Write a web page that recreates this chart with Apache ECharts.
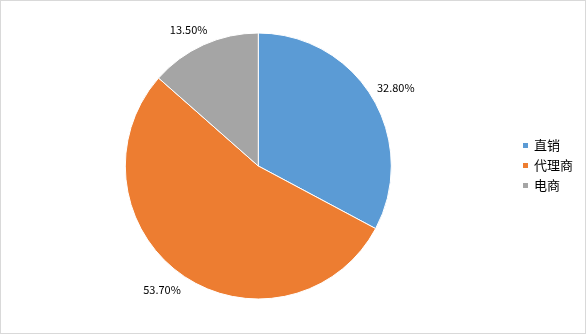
<!DOCTYPE html>
<html><head><meta charset="utf-8">
<script src="https://cdn.jsdelivr.net/npm/echarts@6/dist/echarts.min.js"></script>
<style>
html,body{margin:0;padding:0;background:#fff;}
#frame{position:absolute;left:0;top:0;width:584px;height:332px;border:1px solid #d9d9d9;}
#chart{width:584px;height:332px;}
</style></head>
<body><div id="frame"><div id="chart"></div></div>
<script>
const categories = ['直销', '代理商', '电商'];
const values = [32.8, 53.7, 13.5];
const labels = ['32.80%', '53.70%', '13.50%'];
const colors = ['#5B9BD5', '#ED7D31', '#A5A5A5'];
const labelShift = [[-9, -5], [9, 6], [13, -6]];

const chart = echarts.init(document.getElementById('chart'));
chart.setOption({
  animation: false,
  color: colors,
  legend: {
    orient: 'vertical',
    left: 515, top: 133,
    itemWidth: 7, itemHeight: 7, itemGap: 7,
    icon: 'rect',
    textStyle: {fontSize: 13, color: '#000', fontFamily: 'Noto Sans CJK SC'},
    data: categories
  },
  series: [{
    type: 'pie',
    center: [257.3, 165],
    radius: 133,
    startAngle: 90,
    clockwise: true,
    itemStyle: {borderColor: '#fff', borderWidth: 1},
    label: {
      show: true, position: 'outside', color: '#000',
      fontSize: 11, fontFamily: 'Noto Sans CJK SC',
      formatter: p => labels[p.dataIndex]
    },
    labelLine: {show: false, length: 10, length2: 0},
    labelLayout: p => ({dx: labelShift[p.dataIndex][0], dy: labelShift[p.dataIndex][1]}),
    data: categories.map((c, i) => ({name: c, value: values[i]}))
  }]
});
</script></body></html>
